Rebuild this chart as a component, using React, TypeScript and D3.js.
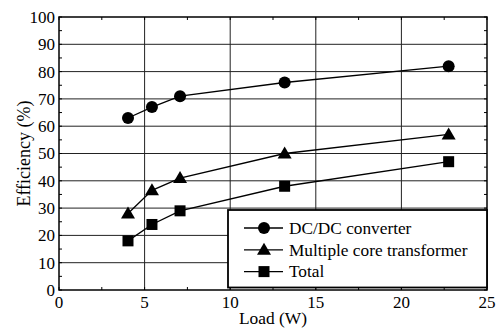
import React from 'react'
import * as d3 from 'd3'

const loads = [4.03, 5.43, 7.07, 13.18, 22.76]
const dcdc = [63, 67, 71, 76, 82]
const transformer = [28, 36.5, 41, 50, 57]
const total = [18, 24, 29, 38, 47]
const xTicks = [0, 5, 10, 15, 20, 25]
const yTicks = [0, 10, 20, 30, 40, 50, 60, 70, 80, 90, 100]
const seriesNames = ['DC/DC converter', 'Multiple core transformer', 'Total']

const W = 500
const H = 329
const M = { left: 59, right: 13, top: 17, bottom: 39 }

const x = d3.scaleLinear().domain([0, 25]).range([M.left, W - M.right])
const y = d3.scaleLinear().domain([0, 100]).range([H - M.bottom, M.top])

const font = "'Times New Roman', Times, 'Liberation Serif', 'DejaVu Serif', serif"

function Marker({ kind, cx, cy }: { kind: number; cx: number; cy: number }) {
    if (kind === 0) return <circle cx={cx} cy={cy} r={6} fill="#000" />
    if (kind === 1) {
        const pts = [[cx, cy - 7], [cx - 7, cy + 5], [cx + 7, cy + 5]]
        return <polygon points={pts.map(p => p.join(',')).join(' ')} fill="#000" />
    }
    return <rect x={cx - 5.5} y={cy - 5.5} width={11} height={11} fill="#000" />
}

export default function App() {
    const series = [dcdc, transformer, total]
    const line = d3.line<number>().x((_, i) => x(loads[i])).y(d => y(d))
    const minorX = d3.range(0, 25.01, 2.5)
    const minorY = d3.range(0, 100.01, 5)
    const x0 = x(0), x1 = x(25), y0 = y(0), y1 = y(100)

    const lg = { x: 228, y: 210, w: x1 - 228, h: 77.5 }

    return (
        <svg width={W} height={H} style={{ position: 'absolute', left: 0, top: 0, fontFamily: font }}>
            <rect width={W} height={H} fill="#fff" />
            {/* grid */}
            {yTicks.slice(1, -1).map(t => (
                <line key={'gy' + t} x1={x0} x2={x1} y1={y(t)} y2={y(t)} stroke="#222" strokeWidth={1} />
            ))}
            {xTicks.slice(1, -1).map(t => (
                <line key={'gx' + t} x1={x(t)} x2={x(t)} y1={y0} y2={y1} stroke="#222" strokeWidth={1} />
            ))}
            {/* minor ticks */}
            {minorX.map(t => (
                <g key={'mx' + t}>
                    <line x1={x(t)} x2={x(t)} y1={y0} y2={y0 - 3} stroke="#000" />
                    <line x1={x(t)} x2={x(t)} y1={y1} y2={y1 + 3} stroke="#000" />
                </g>
            ))}
            {minorY.map(t => (
                <g key={'my' + t}>
                    <line x1={x0} x2={x0 + 3} y1={y(t)} y2={y(t)} stroke="#000" />
                    <line x1={x1} x2={x1 - 3} y1={y(t)} y2={y(t)} stroke="#000" />
                </g>
            ))}
            <rect x={x0} y={y1} width={x1 - x0} height={y0 - y1} fill="none" stroke="#000" strokeWidth={1.5} />

            {/* series */}
            {series.map((s, k) => (
                <g key={'s' + k}>
                    <path d={line(s) || ''} fill="none" stroke="#000" strokeWidth={1.3} />
                    {s.map((v, i) => <Marker key={i} kind={k} cx={x(loads[i])} cy={y(v)} />)}
                </g>
            ))}

            {/* legend */}
            <rect x={lg.x} y={lg.y} width={lg.w} height={lg.h} fill="#fff" stroke="#000" strokeWidth={1.8} />
            {seriesNames.map((n, k) => {
                const ry = 228 + k * 21.8
                return (
                    <g key={'l' + k}>
                        <line x1={244} x2={283} y1={ry} y2={ry} stroke="#000" strokeWidth={1.3} />
                        <Marker kind={k} cx={264} cy={ry} />
                        <text x={289} y={ry} dy="0.33em" fontSize={17.3}>{n}</text>
                    </g>
                )
            })}

            {/* tick labels */}
            {xTicks.map(t => (
                <text key={'xt' + t} x={x(t)} y={y0 + 18} textAnchor="middle" fontSize={17}>{t}</text>
            ))}
            {yTicks.map(t => (
                <text key={'yt' + t} x={x0 - 4} y={y(t)} dy="0.35em" textAnchor="end" fontSize={17}>{t}</text>
            ))}
            <text x={(x0 + x1) / 2} y={H - 5} textAnchor="middle" fontSize={17.4}>Load (W)</text>
            <text transform={`translate(30,${(y0 + y1) / 2}) rotate(-90)`} textAnchor="middle" fontSize={18}>Efficiency (%)</text>
        </svg>
    )
}
